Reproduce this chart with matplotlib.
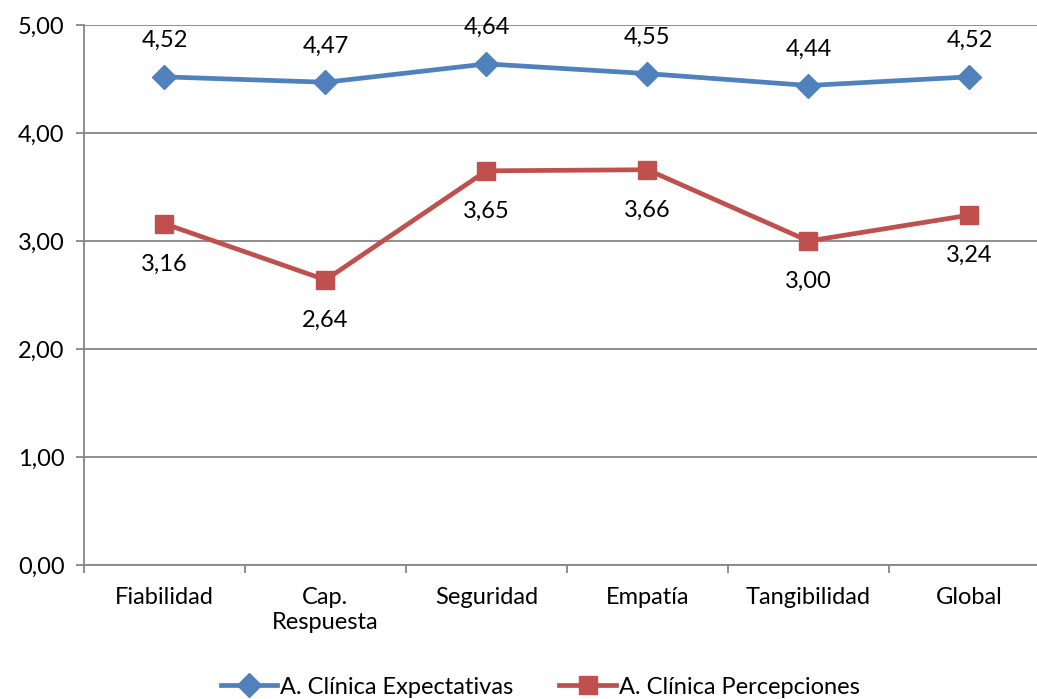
import matplotlib.pyplot as plt
from matplotlib.ticker import FuncFormatter

plt.rcParams['font.family'] = ['Lato', 'DejaVu Sans']

# Dimensiones de calidad de servicio
categorias = ['Fiabilidad', 'Cap.\nRespuesta', 'Seguridad', 'Empatía', 'Tangibilidad', 'Global']
expectativas = [4.52, 4.47, 4.64, 4.55, 4.44, 4.52]
percepciones = [3.16, 2.64, 3.65, 3.66, 3.00, 3.24]

azul = '#4F81BD'
rojo = '#C0504D'
gris = '#868686'
fs = 17

fig = plt.figure(figsize=(10.37, 6.99), dpi=100)
ax = fig.add_axes([0.081, 0.1917, 0.9315, 0.7725])

x = list(range(len(categorias)))
ax.plot(x, expectativas, color=azul, lw=3.4, marker='D', markersize=12,
        label='A. Clínica Expectativas', zorder=3)
ax.plot(x, percepciones, color=rojo, lw=3.4, marker='s', markersize=13,
        label='A. Clínica Percepciones', zorder=3)

# Etiquetas de datos
for xi, v in zip(x, expectativas):
    ax.annotate(f'{v:.2f}'.replace('.', ','), (xi, v), xytext=(0, 26),
                textcoords='offset points', ha='center', va='center', fontsize=fs)
for xi, v in zip(x, percepciones):
    ax.annotate(f'{v:.2f}'.replace('.', ','), (xi, v), xytext=(0, -29),
                textcoords='offset points', ha='center', va='center', fontsize=fs)

ax.set_xlim(-0.5, len(categorias) - 0.5)
ax.set_ylim(0, 5)
ax.set_yticks([0, 1, 2, 3, 4, 5])
ax.yaxis.set_major_formatter(FuncFormatter(lambda v, p: f'{v:.2f}'.replace('.', ',')))
ax.grid(axis='y', color=gris, lw=1.3)
ax.set_axisbelow(True)

ax.set_xticks(x)
ax.set_xticklabels(categorias, fontsize=fs, linespacing=1.25)
ax.set_xticks([i - 0.5 for i in range(len(categorias) + 1)], minor=True)
ax.tick_params(axis='x', which='major', length=0, pad=16)
ax.tick_params(axis='x', which='minor', length=6, width=1.3, color=gris)
ax.tick_params(axis='y', length=6, width=1.3, color=gris, labelsize=fs, pad=8)

for side in ['top', 'right']:
    ax.spines[side].set_visible(False)
for side in ['left', 'bottom']:
    ax.spines[side].set_color(gris)
    ax.spines[side].set_linewidth(1.3)

leg = fig.legend(loc='center', bbox_to_anchor=(0.521, 0.017), ncol=2, frameon=False,
                 fontsize=fs, handlelength=2.4, handletextpad=0.12, columnspacing=1.95)

fig.savefig('out.png', dpi=100)
